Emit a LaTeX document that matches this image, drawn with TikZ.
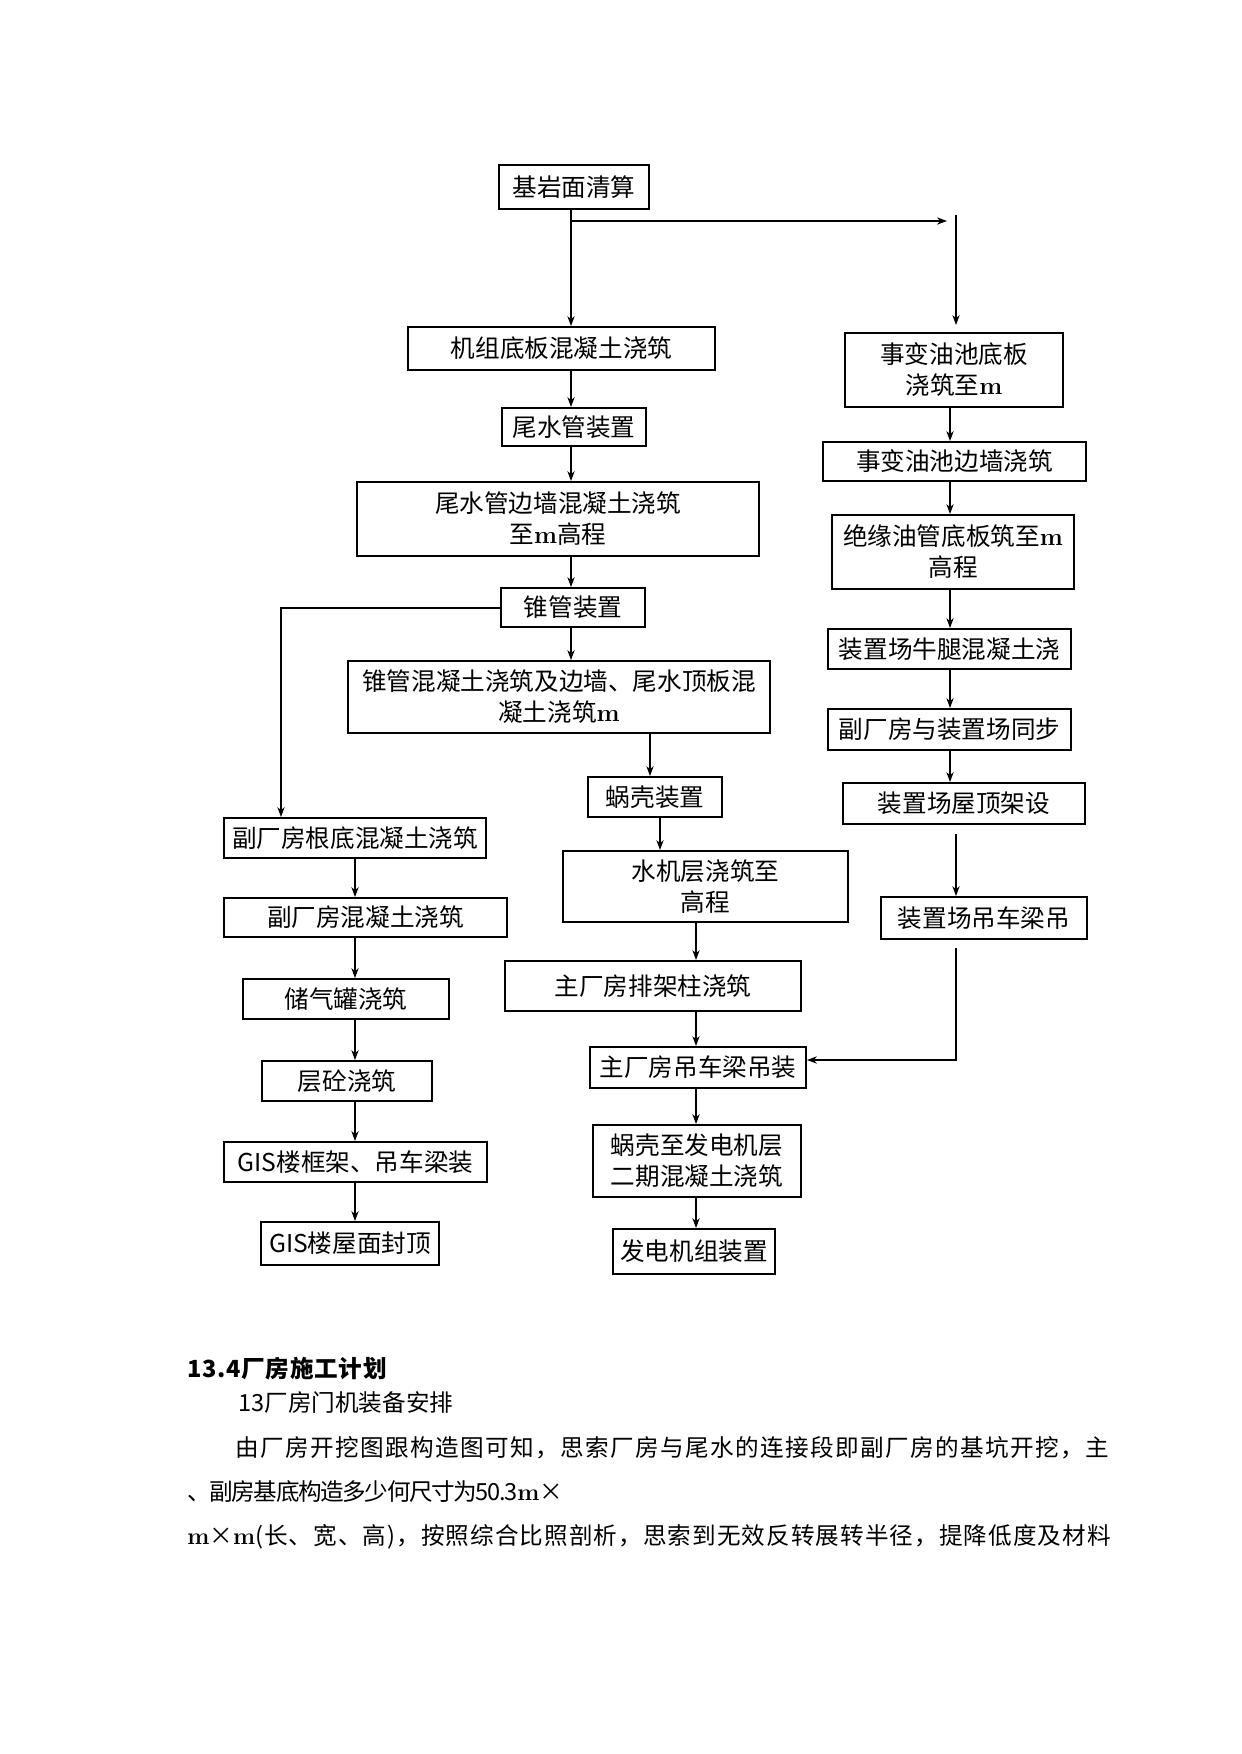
\documentclass[tikz,border=0pt]{standalone}
\usepackage{fontspec}
\newfontfamily\cjk{Noto Sans CJK SC}
\usetikzlibrary{arrows.meta}
\newcommand{\mm}{{\rmfamily\bfseries m}}
\newcommand{\bx}[6]{%
  \node[box, minimum width={(#4-#2)*0.5pt}, minimum height={(#5-#3)*0.5pt}] (#1) at ({(#2+#4)/2},{(#3+#5)/2}) {#6};}
\begin{document}
\begin{tikzpicture}[x=0.5pt,y=-0.5pt,
  box/.style={draw, line width=0.9pt, inner sep=0pt, align=center, font=\cjk\fontsize{12.3}{15.5}\selectfont},
  arr/.style={line width=1pt, -{Stealth[length=5pt,width=3.6pt]}},
  body/.style={anchor=west, inner sep=0pt, font=\cjk\fontsize{11.8}{14}\selectfont}]
\fill[white] (0,0) rectangle (1241,1754);
\useasboundingbox (0,0) rectangle (1241,1754);

\bx{A}{499}{165}{649}{209}{基岩面清算}
\bx{B}{408}{327}{715}{370}{机组底板混凝土浇筑}
\bx{C}{502}{408}{646}{446}{尾水管装置}
\bx{D}{357}{482}{759}{556}{尾水管边墙混凝土浇筑\\至\mm 高程}
\bx{E}{501}{588}{645}{627}{锥管装置}
\bx{F}{348}{661}{770}{733}{锥管混凝土浇筑及边墙、尾水顶板混\\凝土浇筑\mm}
\bx{G}{588}{777}{722}{817}{蜗壳装置}
\bx{H}{563}{851}{848}{922}{水机层浇筑至\\高程}
\bx{I}{505}{961}{801}{1011}{主厂房排架柱浇筑}
\bx{J}{590}{1047}{806}{1088}{主厂房吊车梁吊装}
\bx{K}{593}{1125}{801}{1197}{蜗壳至发电机层\\二期混凝土浇筑}
\bx{L}{613}{1229}{775}{1274}{发电机组装置}
\bx{M}{224}{818}{486}{858}{副厂房根底混凝土浇筑}
\bx{N}{224}{898}{507}{937}{副厂房混凝土浇筑}
\bx{O}{243}{979}{449}{1019}{储气罐浇筑}
\bx{P}{262}{1061}{432}{1101}{层砼浇筑}
\bx{Q}{224}{1142}{487}{1182}{GIS楼框架、吊车梁装}
\bx{R}{261}{1222}{439}{1265}{GIS楼屋面封顶}
\bx{S}{845}{333}{1063}{407}{事变油池底板\\浇筑至\mm}
\bx{T}{823}{442}{1086}{481}{事变油池边墙浇筑}
\bx{U}{832}{515}{1074}{589}{绝缘油管底板筑至\mm\\高程}
\bx{V}{828}{629}{1071}{669}{装置场牛腿混凝土浇}
\bx{W}{828}{709}{1071}{750}{副厂房与装置场同步}
\bx{X}{843}{783}{1085}{824}{装置场屋顶架设}
\bx{Y}{881}{897}{1087}{939}{装置场吊车梁吊}

\coordinate (cA) at (571,0);
\coordinate (cF) at (650,0);
\coordinate (cG) at (660,0);
\coordinate (cH) at (696,0);
\coordinate (cM) at (281,0);
\coordinate (cL) at (355,0);
\coordinate (cR) at (950,0);
\coordinate (cR2) at (956,0);
\coordinate (br) at (571,221);
\coordinate (brEnd) at (947,221);
\coordinate (rTop) at (956,215);
\coordinate (jy) at (0,1060);

\draw[arr] (A.south -| cA) -- (B.north -| cA);
\draw[arr] (br) -- (brEnd);
\draw[arr, shorten >=3.5pt] (rTop) -- (S.north -| cR2);
\draw[arr] (B.south -| cA) -- (C.north -| cA);
\draw[arr] (C.south -| cA) -- (D.north -| cA);
\draw[arr] (D.south -| cA) -- (E.north -| cA);
\draw[arr] (E.south -| cA) -- (F.north -| cA);
\draw[arr] (F.south -| cF) -- (G.north -| cF);
\draw[arr] (G.south -| cG) -- (H.north -| cG);
\draw[arr] (H.south -| cH) -- (I.north -| cH);
\draw[arr] (I.south -| cH) -- (J.north -| cH);
\draw[arr] (J.south -| cH) -- (K.north -| cH);
\draw[arr] (K.south -| cH) -- (L.north -| cH);
\draw[arr] (E.west) -| (M.north -| cM);
\draw[arr] (M.south -| cL) -- (N.north -| cL);
\draw[arr] (N.south -| cL) -- (O.north -| cL);
\draw[arr] (O.south -| cL) -- (P.north -| cL);
\draw[arr] (P.south -| cL) -- (Q.north -| cL);
\draw[arr] (Q.south -| cL) -- (R.north -| cL);
\draw[arr] (S.south -| cR) -- (T.north -| cR);
\draw[arr] (T.south -| cR) -- (U.north -| cR);
\draw[arr] (U.south -| cR) -- (V.north -| cR);
\draw[arr] (V.south -| cR) -- (W.north -| cR);
\draw[arr] (W.south -| cR) -- (X.north -| cR);
\draw[arr, shorten <=4.5pt] (X.south -| cR2) -- (Y.north -| cR2);
\draw[arr, shorten <=4pt] (Y.south -| cR2) -- (cR2 |- jy) -- (J.east |- jy);

\node[body, font=\cjk\bfseries\fontsize{11.8}{14}\selectfont] (t1) at (187,1369) {\addfontfeatures{LetterSpace=3}13.4厂房施工计划};
\node[body] (t2) at (238,1403) {13厂房门机装备安排};
\node[body] (t3) at (235,1448) {\addfontfeatures{LetterSpace=6}由厂房开挖图跟构造图可知，思索厂房与尾水的连接段即副厂房的基坑开挖，主};
\node[body] (t4) at (187,1492) {\addfontfeatures{LetterSpace=-6}、副房基底构造多少何尺寸为50.3\mm×};
\node[body] (t5) at (187,1537) {\addfontfeatures{LetterSpace=4.5}\mm×\mm(长、宽、高)，按照综合比照剖析，思索到无效反转展转半径，提降低度及材料};
\end{tikzpicture}
\end{document}
